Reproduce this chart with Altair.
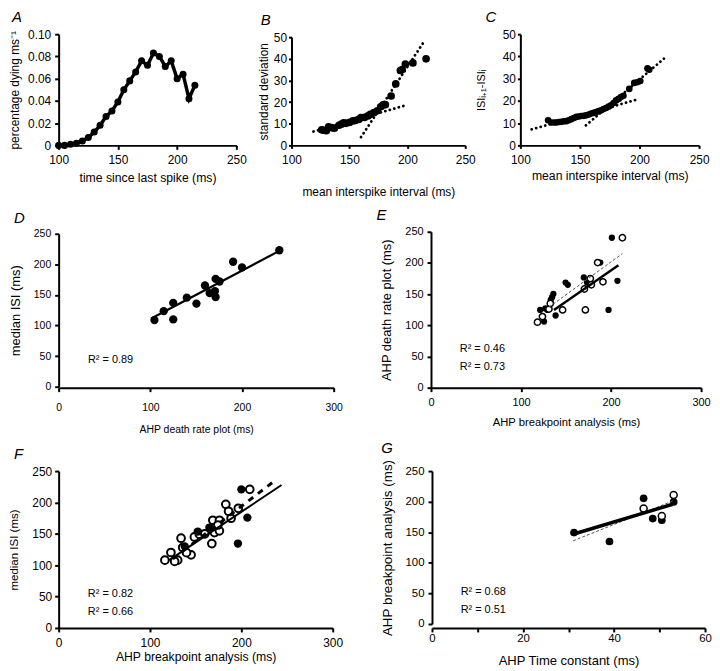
import altair as alt
import pandas as pd

FONT = "Liberation Sans"

# ---------------- Panel A ----------------
a_time = [100, 105, 110, 115, 120, 125, 130, 135, 140, 145, 150, 155, 160, 165, 170, 175,
          180, 185, 190, 195, 200, 205, 210, 215]
a_pct = [0.000, 0.000, 0.001, 0.002, 0.004, 0.007, 0.012, 0.018, 0.026, 0.031, 0.039, 0.050,
         0.058, 0.066, 0.076, 0.072, 0.083, 0.080, 0.071, 0.076, 0.060, 0.064, 0.042, 0.054]

# ---------------- Panel B ----------------
b_isi = [126, 128, 130, 132, 135, 137, 141, 143, 145, 147, 150, 153, 155, 158, 160, 163, 166,
         168, 171, 174, 177, 179, 181, 186, 190, 194, 195.5, 198.3, 204.8, 216.2]
b_sd = [7.2, 7.0, 6.8, 8.6, 8.2, 7.9, 9.3, 9.8, 10.4, 10.2, 10.6, 11.3, 11.5, 12.0, 12.8, 12.9,
        13.6, 14.3, 15.1, 16.0, 17.8, 18.7, 18.8, 22.8, 28.4, 34.6, 35.0, 37.6, 38.1, 40.0]
b_fit_g = ["shallow", "shallow", "steep", "steep"]
b_fit_x = [119, 198, 160, 215]
b_fit_y = [6.4, 18.4, 3.8, 48.4]

# ---------------- Panel C ----------------
c_isi = [123.3, 126.1, 128.5, 130.3, 132.5, 134.4, 136.5, 138.6, 140.7, 142.8, 144.9, 146.9,
         149.0, 151.1, 153.2, 155.3, 157.4, 159.4, 161.5, 163.6, 165.7, 167.8, 169.8, 171.9,
         174.0, 176.1, 178.2, 180.3, 182.4, 184.4, 186.5, 191.4, 195.6, 198.0, 200.6, 206.7, 208.2]
c_diff = [11.3, 10.3, 10.3, 10.3, 10.5, 10.6, 10.8, 10.9, 11.3, 11.8, 12.3, 12.8, 13.0, 13.2,
          13.3, 13.5, 13.9, 14.3, 14.6, 15.0, 15.4, 15.8, 16.3, 16.8, 17.4, 18.0, 19.0, 20.2,
          20.9, 21.7, 22.3, 25.4, 28.1, 28.4, 28.9, 34.6, 34.0]
c_fit_g = ["shallow", "shallow", "steep", "steep"]
c_fit_x = [109.5, 198, 155, 220.5]
c_fit_y = [7.2, 20.6, 9.0, 39.0]

# ---------------- Panel D ----------------
d_deathrate = [104.5, 114.6, 125, 125, 139.8, 150.3, 159.6, 164.7, 170.5, 171.2, 171.2, 175.5,
               190.3, 200, 240.7]
d_median = [108.8, 123.4, 136.9, 110, 145.5, 135.8, 165.4, 153, 156.3, 146.6, 176.2, 171.9,
            204.2, 195, 223]
d_fit_x = [101, 240.7]
d_fit_y = [111.5, 222]
d_r2 = ["R² = 0.89"]

# ---------------- Panel E ----------------
e_filled_x = [125.6, 121.2, 129.3, 133, 135.9, 134.5, 138.4, 149.5, 152, 169.7, 173.3, 188,
              197.2, 207.1, 200.9, 127]
e_filled_y = [106, 124.7, 124.7, 140.6, 150.2, 145, 115.7, 168.6, 165, 176.8, 168.6, 200.6,
              124.7, 171.4, 240.4, 127]
e_open_x = [118.3, 123.8, 131, 146.2, 171.5, 170.4, 177, 178.1, 191, 185.1, 212.6, 132.5]
e_open_y = [105, 114, 126, 124.7, 124.7, 158.2, 175, 165, 169.7, 200.6, 240.4, 135]
e_solid_x = [136.6, 208.2]
e_solid_y = [124.7, 196.4]
e_dash_x = [131, 212.6]
e_dash_y = [129, 215]
e_r2 = ["R² = 0.46", "R² = 0.73"]

# ---------------- Panel F ----------------
f_open_x = [116.3, 122.9, 130.3, 127, 135.8, 134, 145, 148.6, 154, 167.7, 170.6, 168.8, 176,
            176, 174.3, 183, 188.8, 196.7, 209.2, 140, 160, 186]
f_open_y = [108, 120.2, 108, 106, 128.2, 143, 116.5, 145, 149.4, 134.5, 152, 171.6, 154.7,
            171.6, 164, 197, 174.8, 190.7, 220.9, 120, 150, 186]
f_filled_x = [152.3, 200, 206.6, 196.3, 138, 165]
f_filled_y = [153.6, 220.9, 175.9, 134.5, 130, 160]
f_solid_x = [121, 244]
f_solid_y = [108, 227.8]
f_dash_x = [125, 237]
f_dash_y = [110, 235]
f_r2 = ["R² = 0.82", "R² = 0.66"]

# ---------------- Panel G ----------------
g_filled_x = [31.2, 39, 46.5, 48.5, 50.5, 53.1]
g_filled_y = [149.5, 134.8, 205.4, 172.3, 169.6, 199.5]
g_open_x = [46.5, 50.5, 53.1]
g_open_y = [188.6, 176.6, 210.9]
g_solid_x = [31, 52.9]
g_solid_y = [146.7, 195.7]
g_dash_x = [31, 52.9]
g_dash_y = [136, 201]
g_r2 = ["R² = 0.68", "R² = 0.51"]


def xy(xs, ys, g=None, t=None):
    df = pd.DataFrame({"x": xs, "y": ys})
    if g is not None:
        df["g"] = g
    if t is not None:
        df["t"] = t
    return df


def make_axis(values, title, lsize, tsize, tick, lpad, tpos, orient, label_expr=None, dw=2.0):
    kw = dict(values=values, title=title, labelFontSize=lsize, titleFontSize=tsize,
              tickSize=tick, labelPadding=lpad, domainWidth=dw, tickWidth=dw, grid=False,
              domainColor="black", tickColor="black", labelColor="black", titleColor="black",
              labelFont=FONT, titleFont=FONT, titleFontWeight="normal", labelFlush=False,
              labelOverlap=False)
    if orient == "x":
        kw.update(titleY=tpos, titleBaseline="alphabetic")
    else:
        kw.update(titleX=tpos, titleBaseline="middle", titleAngle=270)
    if label_expr:
        kw["labelExpr"] = label_expr
    return alt.Axis(**kw)


def panel(layers, w, h, letter, ldx, ldy=-3):
    return alt.layer(*layers).properties(
        width=w, height=h,
        title=alt.TitleParams(letter, anchor="start", frame="group", dx=ldx, dy=ldy,
                              fontSize=15, fontStyle="italic", fontWeight="normal",
                              font=FONT, color="black", offset=0))


def pts(df, X, Y, size, filled=True, sw=1.5):
    if filled:
        m = alt.Chart(df).mark_point(filled=True, shape="circle", size=size, color="black",
                                     opacity=1)
    else:
        m = alt.Chart(df).mark_point(filled=True, shape="circle", size=size, fill="white",
                                     stroke="black", strokeWidth=sw, opacity=1)
    return m.encode(x=X, y=Y)


def line(df, X, Y, **style):
    enc = dict(x=X, y=Y)
    if "g" in df.columns:
        enc["detail"] = "g:N"
    return alt.Chart(df).mark_line(**style).encode(**enc)


def r2(df, X, Y, size=11):
    return alt.Chart(df).mark_text(align="left", baseline="alphabetic", font=FONT,
                                   fontSize=size, color="black").encode(x=X, y=Y, text="t:N")


dotted = dict(color="black", strokeWidth=2.8, strokeDash=[0.1, 4.6], strokeCap="round")
LEFT = -50  # common left edge of the first column's y titles (relative to plot)

# ---- A ----
XA = alt.X("x:Q", scale=alt.Scale(domain=[100, 250], nice=False, zero=False),
           axis=make_axis([100, 150, 200, 250], "time since last spike (ms)", 12, 12.3, 4, 5,
                          36, "x"))
YA = alt.Y("y:Q", scale=alt.Scale(domain=[0, 0.1], nice=False, zero=False),
           axis=make_axis([0, 0.02, 0.04, 0.06, 0.08, 0.1], "percentage dying ms⁻¹", 12, 12,
                          4, 4, LEFT + 6, "y",
                          label_expr="datum.value == 0 ? '0' : format(datum.value, '.2f')"))
dfa = xy(a_time, a_pct)
chart_a = panel([line(dfa, XA, YA, color="black", strokeWidth=3.5),
                 pts(dfa, XA, YA, 50)], 179, 112, "A", -47)

# ---- B ----
XB = alt.X("x:Q", scale=alt.Scale(domain=[100, 250], nice=False, zero=False),
           axis=make_axis([100, 150, 200, 250], "mean interspike interval (ms)", 12, 12, 3, 6,
                          50, "x"))
YB = alt.Y("y:Q", scale=alt.Scale(domain=[0, 50], range=[112, 3], nice=False, zero=False),
           axis=make_axis([0, 10, 20, 30, 40, 50], "standard deviation", 12, 12, 3, 2, -28, "y"))
chart_b = panel([pts(xy(b_isi, b_sd), XB, YB, 60),
                 line(xy(b_fit_x, b_fit_y, g=b_fit_g), XB, YB, **dotted)],
                175, 112, "B", -31)

# ---- C ----
XC = alt.X("x:Q", scale=alt.Scale(domain=[100, 250], nice=False, zero=False),
           axis=make_axis([100, 150, 200, 250], "mean interspike interval (ms)", 12, 12.3, 3, 6,
                          34, "x"))
YC = alt.Y("y:Q", scale=alt.Scale(domain=[0, 50], nice=False, zero=False),
           axis=make_axis([0, 10, 20, 30, 40, 50], "ISIᵢ₊₁-ISIᵢ", 12, 11, 3, 2, -39, "y"))
chart_c = panel([pts(xy(c_isi, c_diff), XC, YC, 45),
                 line(xy(c_fit_x, c_fit_y, g=c_fit_g), XC, YC, **dotted)],
                180, 112, "C", -35)

# ---- D ----
XD = alt.X("x:Q", scale=alt.Scale(domain=[0, 300], nice=False, zero=False),
           axis=make_axis([0, 100, 200, 300], "AHP death rate plot (ms)", 10.5, 10.5, 4, 11,
                          45, "x"))
YD = alt.Y("y:Q", scale=alt.Scale(domain=[0, 250], range=[156, 2], nice=False, zero=False),
           axis=make_axis([0, 50, 100, 150, 200, 250], "median ISI (ms)", 10.5, 13, 4, 4,
                          LEFT + 6.5, "y"))
chart_d = panel([pts(xy(d_deathrate, d_median), XD, YD, 70),
                 line(xy(d_fit_x, d_fit_y), XD, YD, color="black", strokeWidth=2.2),
                 r2(xy([32], [38], t=d_r2), XD, YD)],
                277, 157, "D", -45)

# ---- E ----
XE = alt.X("x:Q", scale=alt.Scale(domain=[0, 300], nice=False, zero=False),
           axis=make_axis([0, 100, 200, 300], "AHP breakpoint analysis (ms)", 11, 11.3, 4, 5,
                          38, "x"))
YE = alt.Y("y:Q", scale=alt.Scale(domain=[0, 250], nice=False, zero=False),
           axis=make_axis([0, 50, 100, 150, 200, 250], "AHP death rate plot (ms)", 11, 13, 4, 4,
                          -45, "y"))
chart_e = panel([pts(xy(e_filled_x, e_filled_y), XE, YE, 40),
                 pts(xy(e_open_x, e_open_y), XE, YE, 40, filled=False, sw=1.5),
                 line(xy(e_dash_x, e_dash_y), XE, YE, color="#555555", strokeWidth=1,
                      strokeDash=[3, 2]),
                 line(xy(e_solid_x, e_solid_y), XE, YE, color="black", strokeWidth=2.5),
                 r2(xy([32, 32], [57, 28], t=e_r2), XE, YE)],
                272, 157, "E", -55)

# ---- F ----
XF = alt.X("x:Q", scale=alt.Scale(domain=[0, 300], nice=False, zero=False),
           axis=make_axis([0, 100, 200, 300], "AHP breakpoint analysis (ms)", 12, 12.3, 4, 6,
                          33, "x"))
YF = alt.Y("y:Q", scale=alt.Scale(domain=[0, 250], nice=False, zero=False),
           axis=make_axis([0, 50, 100, 150, 200, 250], "median ISI (ms)", 12, 11.6, 4, 3,
                          LEFT + 5.8, "y"))
chart_f = panel([pts(xy(f_open_x, f_open_y), XF, YF, 60, filled=False, sw=2),
                 pts(xy(f_filled_x, f_filled_y), XF, YF, 70),
                 line(xy(f_dash_x, f_dash_y), XF, YF, color="black", strokeWidth=3,
                      strokeDash=[6, 6]),
                 line(xy(f_solid_x, f_solid_y), XF, YF, color="black", strokeWidth=2),
                 r2(xy([32, 32], [50, 21], t=f_r2), XF, YF)],
                276, 158, "F", -45)

# ---- G ----
XG = alt.X("x:Q", scale=alt.Scale(domain=[0, 60], nice=False, zero=False),
           axis=make_axis([0, 10, 20, 30, 40, 50, 60], "AHP Time constant (ms)", 11.5, 13.1, 4,
                          1, 37, "x", label_expr="datum.value % 20 == 0 ? datum.label : ''"))
YG = alt.Y("y:Q", scale=alt.Scale(domain=[0, 250], range=[154, 0], nice=False, zero=False),
           axis=make_axis([0, 50, 100, 150, 200, 250], "AHP breakpoint analysis (ms)", 11.5, 13.5,
                          4, 4, -45, "y"))
chart_g = panel([pts(xy(g_filled_x, g_filled_y), XG, YG, 60),
                 pts(xy(g_open_x, g_open_y), XG, YG, 50, filled=False, sw=1.5),
                 line(xy(g_dash_x, g_dash_y), XG, YG, color="#555555", strokeWidth=1,
                      strokeDash=[3, 2]),
                 line(xy(g_solid_x, g_solid_y), XG, YG, color="black", strokeWidth=3.5),
                 r2(xy([6.3, 6.3], [48, 17.5], t=g_r2), XG, YG)],
                275, 158, "G", -51)

row1 = alt.hconcat(chart_a, chart_b, chart_c, spacing=55.5, bounds="flush")
row2 = alt.hconcat(chart_d, chart_e, spacing=98, bounds="flush")
row3 = alt.hconcat(chart_f, chart_g, spacing=100, bounds="flush")

top_rows = alt.vconcat(row1, row2, spacing=11)
chart = alt.vconcat(top_rows, row3, spacing=6).properties(
    padding={"left": 0, "top": 0, "right": 0, "bottom": 0}, background="white"
).configure_view(stroke=None)

chart.save("out.html", embed_options={"renderer": "svg", "actions": False})
